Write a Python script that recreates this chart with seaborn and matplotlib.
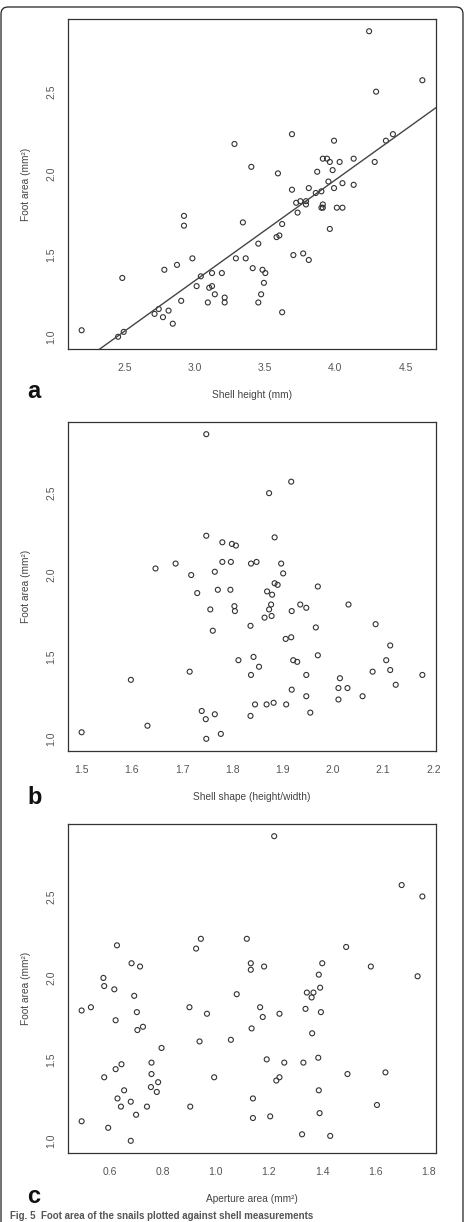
import numpy as np
import pandas as pd
import matplotlib
matplotlib.use("Agg")
import matplotlib.pyplot as plt
from matplotlib.patches import FancyBboxPatch
import seaborn as sns

# panel a: shell height vs foot area
shell_height = [2.19, 2.45, 2.49, 2.48, 2.71, 2.74, 2.77, 2.78, 2.81, 2.84,
                2.87, 2.90, 2.92, 2.92, 2.98, 3.01, 3.04, 3.09, 3.10, 3.12,
                3.12, 3.14, 3.19, 3.21, 3.21, 3.28, 3.29, 3.34, 3.36, 3.40,
                3.41, 3.45, 3.45, 3.47, 3.48, 3.50, 3.49, 3.59, 3.58, 3.60,
                3.62, 3.62, 3.69, 3.69, 3.70, 3.72, 3.73, 3.75, 3.77, 3.79,
                3.79, 3.81, 3.81, 3.86, 3.87, 3.90, 3.90, 3.91, 3.91, 3.91,
                3.94, 3.95, 3.96, 3.96, 3.98, 3.99, 3.99, 4.01, 4.03, 4.05,
                4.05, 4.13, 4.13, 4.24, 4.28, 4.29, 4.36, 4.41, 4.62]
foot_a = [1.04, 1.00, 1.03, 1.36, 1.14, 1.17, 1.12, 1.41, 1.16, 1.08,
          1.44, 1.22, 1.74, 1.68, 1.48, 1.31, 1.37, 1.21, 1.30, 1.31,
          1.39, 1.26, 1.39, 1.24, 1.21, 2.18, 1.48, 1.70, 1.48, 2.04,
          1.42, 1.57, 1.21, 1.26, 1.41, 1.39, 1.33, 2.00, 1.61, 1.62,
          1.15, 1.69, 2.24, 1.90, 1.50, 1.82, 1.76, 1.83, 1.51, 1.83,
          1.81, 1.91, 1.47, 1.88, 2.01, 1.89, 1.79, 1.81, 1.79, 2.09,
          2.09, 1.95, 1.66, 2.07, 2.02, 2.20, 1.91, 1.79, 2.07, 1.94,
          1.79, 1.93, 2.09, 2.87, 2.07, 2.50, 2.20, 2.24, 2.57]

# panel b: shell shape vs foot area
shell_shape = [1.500, 1.598, 1.631, 1.647, 1.687, 1.715, 1.718, 1.730, 1.739, 1.747,
               1.748, 1.748, 1.748, 1.756, 1.761, 1.765, 1.765, 1.771, 1.777, 1.780,
               1.780, 1.796, 1.797, 1.799, 1.804, 1.805, 1.807, 1.812, 1.836, 1.837,
               1.837, 1.836, 1.842, 1.845, 1.848, 1.853, 1.864, 1.868, 1.869, 1.873,
               1.873, 1.877, 1.878, 1.879, 1.882, 1.884, 1.884, 1.890, 1.897, 1.901,
               1.907, 1.906, 1.917, 1.917, 1.918, 1.918, 1.921, 1.929, 1.935, 1.947,
               1.947, 1.947, 1.955, 1.966, 1.970, 1.970, 2.011, 2.011, 2.014, 2.029,
               2.031, 2.059, 2.079, 2.085, 2.106, 2.114, 2.114, 2.125, 2.178]
foot_b = [1.04, 1.36, 1.08, 2.04, 2.07, 1.41, 2.00, 1.89, 1.17, 1.12,
          1.00, 2.86, 2.24, 1.79, 1.66, 2.02, 1.15, 1.91, 1.03, 2.20,
          2.08, 1.91, 2.08, 2.19, 1.81, 1.78, 2.18, 1.48, 1.69, 2.07,
          1.39, 1.14, 1.50, 1.21, 2.08, 1.44, 1.74, 1.21, 1.90, 1.79,
          2.50, 1.82, 1.75, 1.88, 1.22, 2.23, 1.95, 1.94, 2.07, 2.01,
          1.21, 1.61, 1.62, 2.57, 1.78, 1.30, 1.48, 1.47, 1.82, 1.80,
          1.39, 1.26, 1.16, 1.68, 1.93, 1.51, 1.31, 1.24, 1.37, 1.31,
          1.82, 1.26, 1.41, 1.70, 1.48, 1.42, 1.57, 1.33, 1.39]

# panel c: aperture area vs foot area
aperture_area = [0.495, 0.495, 0.530, 0.577, 0.580, 0.580, 0.595, 0.618, 0.623, 0.623,
                 0.628, 0.630, 0.643, 0.645, 0.655, 0.680, 0.680, 0.683, 0.693, 0.700,
                 0.703, 0.705, 0.715, 0.726, 0.741, 0.756, 0.758, 0.758, 0.778, 0.783,
                 0.796, 0.901, 0.904, 0.926, 0.939, 0.944, 0.967, 0.994, 1.057, 1.079,
                 1.117, 1.132, 1.132, 1.135, 1.140, 1.140, 1.167, 1.177, 1.182, 1.192,
                 1.205, 1.220, 1.228, 1.240, 1.240, 1.258, 1.325, 1.330, 1.338, 1.343,
                 1.361, 1.363, 1.368, 1.386, 1.388, 1.388, 1.391, 1.393, 1.396, 1.401,
                 1.431, 1.491, 1.496, 1.584, 1.607, 1.639, 1.700, 1.760, 1.778]
foot_c = [1.80, 1.12, 1.82, 2.00, 1.95, 1.39, 1.08, 1.93, 1.74, 1.44,
          2.20, 1.26, 1.21, 1.47, 1.31, 1.24, 1.00, 2.09, 1.89, 1.16,
          1.79, 1.68, 2.07, 1.70, 1.21, 1.33, 1.48, 1.41, 1.30, 1.36,
          1.57, 1.82, 1.21, 2.18, 1.61, 2.24, 1.78, 1.39, 1.62, 1.90,
          2.24, 2.09, 2.05, 1.69, 1.26, 1.14, 1.82, 1.76, 2.07, 1.50,
          1.15, 2.87, 1.37, 1.39, 1.78, 1.48, 1.04, 1.48, 1.81, 1.91,
          1.88, 1.66, 1.91, 1.51, 2.02, 1.31, 1.17, 1.94, 1.79, 2.09,
          1.03, 2.19, 1.41, 2.07, 1.22, 1.42, 2.57, 2.01, 2.50]

y_ticks = [1.0, 1.5, 2.0, 2.5]
x_ticks_a = [2.5, 3.0, 3.5, 4.0, 4.5]
x_ticks_b = [1.5, 1.6, 1.7, 1.8, 1.9, 2.0, 2.1, 2.2]
x_ticks_c = [0.6, 0.8, 1.0, 1.2, 1.4, 1.6, 1.8]

sns.set_style("white")
plt.rcParams['font.family'] = ['Liberation Sans', 'DejaVu Sans']

W, H = 465, 1222
fig = plt.figure(figsize=(W / 100, H / 100), dpi=100)

ink = '#333333'
tick_col = '#555555'


def panel(rect, x, y, xticks, xlabel, letter, letter_base, fit=False):
    ax = fig.add_axes(rect)
    df = pd.DataFrame({'x': x, 'y': y})
    sns.scatterplot(data=df, x='x', y='y', ax=ax, marker='o', s=13,
                    facecolor='none', edgecolor=ink, linewidth=0.8)
    ax.margins(x=0.04, y=0.04)
    ax.set_xlim(ax.get_xlim())
    ax.set_ylim(ax.get_ylim())
    if fit:
        sns.regplot(data=df, x='x', y='y', ax=ax, scatter=False, ci=None,
                    truncate=False, line_kws={'color': '#444444', 'lw': 1.0})
    ax.set_xticks(xticks)
    ax.set_yticks(y_ticks)
    ax.set_xticklabels([f'{t:.1f}' for t in xticks])
    ax.set_yticklabels([f'{t:.1f}' for t in y_ticks])
    for s in ax.spines.values():
        s.set_color(ink)
        s.set_linewidth(0.9)
    ax.tick_params(axis='both', direction='out', length=4, width=0.8,
                   color=ink, labelcolor=tick_col, labelsize=7.5)
    ax.tick_params(axis='x', pad=6)
    ax.tick_params(axis='y', pad=4.5, labelrotation=90)
    for lab in ax.get_yticklabels():
        lab.set_va('center')
    ax.set_xlabel(xlabel, fontsize=7.3, color='#444444')
    ax.set_ylabel('Foot area (mm²)', fontsize=7.3, color='#444444')
    ax.xaxis.set_label_coords(0.5, -0.14)
    ax.xaxis.label.set_va('center')
    ax.yaxis.set_label_coords(-0.114, 0.5)
    ax.yaxis.label.set_va('center')
    fig.text(27 / W, 1 - letter_base / H, letter, fontsize=17,
             fontweight='bold', color='#111111', va='baseline', ha='left')
    return ax


left = 68 / W
width = (436 - 68) / W
panel([left, 1 - 349 / H, width, 330 / H], shell_height, foot_a, x_ticks_a,
      'Shell height (mm)', 'a', 398, fit=True)
panel([left, 1 - 751 / H, width, 329 / H], shell_shape, foot_b, x_ticks_b,
      'Shell shape (height/width)', 'b', 804)
panel([left, 1 - 1153 / H, width, 329 / H], aperture_area, foot_c, x_ticks_c,
      'Aperture area (mm²)', 'c', 1203)

# caption line at the very bottom of the page
fig.text(10 / W, 1 - 1211 / H, 'Fig. 5  Foot area of the snails plotted against shell measurements',
         fontsize=7, fontweight='bold', color='#555555', va='top', ha='left')

# rounded page frame
frame = FancyBboxPatch((1, -30), W - 3, H - 7 + 30,
                       boxstyle='round,pad=0,rounding_size=7',
                       transform=None, fill=False, ec='#222222', lw=0.9)
fig.add_artist(frame)

fig.savefig('out.png', dpi=100)
